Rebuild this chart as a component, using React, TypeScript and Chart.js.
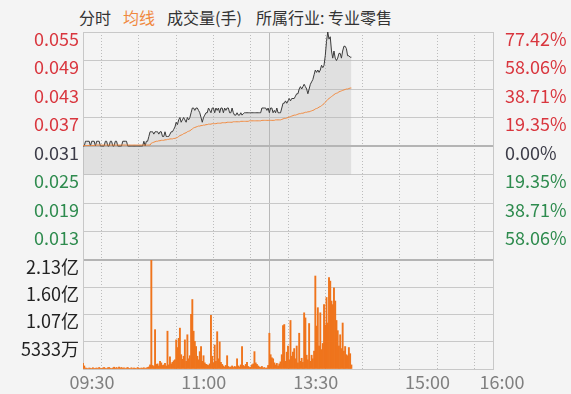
import React, { useEffect, useRef } from 'react';
import { Chart, registerables } from 'chart.js';

Chart.register(...registerables);

const FONT = '"Noto Sans CJK SC", "Noto Sans", sans-serif';

// previous close (reference price)
const prevClose = 0.031;

// price axis ticks (left) – bottom tick unlabeled
const priceTicks = [0.007, 0.013, 0.019, 0.025, 0.031, 0.037, 0.043, 0.049, 0.055];
// volume axis ticks in 万 (10k)
const volTicks = [0, 5333.33, 10666.67, 16000, 21333.33];
const volTickLabels = ['', '5333万', '1.07亿', '1.60亿', '2.13亿'];
// time axis: minutes since 09:30 (lunch break collapsed, 12:00 == 13:00)
const gridMinutes = [0, 30, 60, 90, 120, 150, 180, 210, 240, 270, 300, 330];
const xTickMinutes = [0, 90, 180, 270, 330];
const xTickLabels = ['09:30', '11:00', '13:30', '15:00', '16:00'];
const sessionBreak = [150];

// minute prices (index = minute since 09:30)
const price = [
  0.031, 0.031, 0.032, 0.032, 0.032, 0.032, 0.031, 0.032, 0.032, 0.032,
  0.031, 0.032, 0.032, 0.032, 0.031, 0.031, 0.031, 0.031, 0.032, 0.032,
  0.031, 0.031, 0.032, 0.032, 0.031, 0.031, 0.032, 0.032, 0.031, 0.031,
  0.031, 0.031, 0.032, 0.032, 0.032, 0.032, 0.031, 0.031, 0.031, 0.031,
  0.031, 0.031, 0.031, 0.031, 0.031, 0.031, 0.031, 0.031, 0.031, 0.032,
  0.031, 0.032, 0.032, 0.033, 0.034,
  0.034, 0.034, 0.0335, 0.034, 0.034, 0.034, 0.0335, 0.034, 0.034, 0.033,
  0.033, 0.034, 0.033, 0.033, 0.033, 0.0335, 0.034, 0.034,
  0.0345, 0.035, 0.036, 0.0355, 0.0365, 0.037, 0.036, 0.0365, 0.037, 0.0365,
  0.036, 0.037, 0.0365, 0.037, 0.038, 0.039, 0.039, 0.0385, 0.039, 0.039,
  0.0385, 0.038, 0.037, 0.036, 0.037, 0.0375, 0.038, 0.038,
  0.039, 0.0385, 0.038, 0.039, 0.039, 0.038, 0.039, 0.0385, 0.039, 0.038,
  0.039, 0.039, 0.038, 0.039, 0.0385, 0.039, 0.039, 0.038, 0.038, 0.039,
  0.038, 0.0375, 0.0375, 0.038, 0.0375, 0.0375, 0.038, 0.0375, 0.0378,
  0.038, 0.038, 0.038, 0.038, 0.038, 0.038, 0.038, 0.038, 0.038, 0.038,
  0.038, 0.038, 0.038, 0.038,
  0.039, 0.039, 0.039, 0.039, 0.0385, 0.039, 0.038, 0.039, 0.039, 0.038,
  0.0385, 0.038, 0.039, 0.038, 0.038, 0.038, 0.039,
  0.040, 0.040, 0.0405, 0.040, 0.0405, 0.041, 0.0405, 0.041, 0.041, 0.041,
  0.0415, 0.042, 0.042, 0.043, 0.0435, 0.043, 0.0435, 0.044, 0.0435, 0.043,
  0.042, 0.043, 0.044, 0.0445, 0.045, 0.046, 0.047, 0.0465, 0.047, 0.0465,
  0.047, 0.048, 0.0475, 0.048, 0.050, 0.053, 0.055, 0.0535, 0.054, 0.051,
  0.0495, 0.051, 0.0495, 0.049, 0.0495, 0.0505, 0.0505, 0.0495, 0.051, 0.052,
  0.052, 0.0515, 0.050, 0.050, 0.0497, 0.0497,
];

// minute average price
const avgPrice = [
  0.0311, 0.0311, 0.0311, 0.0311, 0.0311, 0.0311, 0.0311, 0.0311, 0.0311, 0.0311,
  0.0312, 0.0312, 0.0312, 0.0312, 0.0312, 0.0312, 0.0312, 0.0312, 0.0312, 0.0312,
  0.0312, 0.0312, 0.0312, 0.0312, 0.0312, 0.0312, 0.0312, 0.0312, 0.0312, 0.0312,
  0.0312, 0.0312, 0.0312, 0.0312, 0.0312, 0.0312, 0.0312, 0.0312, 0.0312, 0.0312,
  0.0312, 0.0312, 0.0312, 0.0312, 0.0312, 0.0312, 0.0312, 0.0312, 0.0312, 0.0312,
  0.0312, 0.0312, 0.0312, 0.0312, 0.0312,
  0.0316, 0.0317, 0.0318, 0.0319, 0.0320, 0.0320, 0.0321, 0.0321, 0.0322, 0.0322,
  0.0322, 0.0323, 0.0323, 0.0324, 0.0324, 0.0325, 0.0325, 0.0325, 0.0326, 0.0326,
  0.0327, 0.0328, 0.0330, 0.0332, 0.0333, 0.0334, 0.0336, 0.0337, 0.0338, 0.0340,
  0.0341, 0.0342, 0.0344, 0.0346, 0.0348, 0.0349, 0.0350, 0.0351, 0.0352, 0.0352,
  0.0353, 0.0353, 0.0354, 0.0354, 0.0355,
  0.0355, 0.0356, 0.0356, 0.0356, 0.0357, 0.0357, 0.0357, 0.0357, 0.0358, 0.0358,
  0.0358, 0.0358, 0.0359, 0.0359, 0.0359, 0.0359, 0.0360, 0.0360, 0.0360, 0.0360,
  0.0360, 0.0361, 0.0361, 0.0361, 0.0361, 0.0361, 0.0361, 0.0362, 0.0362, 0.0362,
  0.0362, 0.0362, 0.0362, 0.0362, 0.0363, 0.0363, 0.0363, 0.0363, 0.0363, 0.0363,
  0.0363, 0.0363, 0.0363, 0.0363, 0.0364, 0.0364, 0.0364, 0.0364, 0.0364, 0.0364,
  0.0364, 0.0364, 0.0364, 0.0364, 0.0364, 0.0365, 0.0365, 0.0365, 0.0365, 0.0365,
  0.0366, 0.0367, 0.0368, 0.0368, 0.0369, 0.0370, 0.0371, 0.0372, 0.0373, 0.0374,
  0.0375, 0.0375, 0.0376, 0.0377, 0.0378, 0.0378, 0.0379, 0.0379, 0.0380, 0.0381,
  0.0381, 0.0382, 0.0382, 0.0383, 0.0384, 0.0385, 0.0386, 0.0388, 0.0389, 0.0390,
  0.0392, 0.0393, 0.0395, 0.0397, 0.0399, 0.0402, 0.0405, 0.0408, 0.0410, 0.0412,
  0.0414, 0.0416, 0.0418, 0.0420, 0.0421, 0.0422, 0.0424, 0.0425, 0.0426, 0.0427,
  0.0428, 0.0429, 0.0430, 0.0430, 0.0431, 0.0432, 0.0432,
];

// minute volume in 万
const volume = [
  1100, 600, 200, 150, 100, 200, 150, 100, 250, 100,
  150, 200, 100, 300, 150, 100, 200, 300, 150, 100,
  250, 300, 150, 100, 200, 350, 150, 300, 100, 400,
  200, 300, 150, 250, 100, 200, 300, 150, 100, 250,
  100, 200, 150, 100, 300, 150, 100, 200, 150, 250,
  100, 200, 300, 400, 800,
  21300, 700, 500, 7700, 900, 1000, 600, 1500, 1200, 700,
  800, 1100, 600, 7400, 800, 2400, 1000, 1300, 1600, 1800,
  5700, 4200, 6000, 8000, 2800, 1900, 2500, 5700, 1500, 6700,
  2000, 2600, 10700, 13600, 7400, 5400, 4400, 2500, 1800, 3400,
  4400, 1500, 2600, 1200, 900,
  800, 700, 1000, 10500, 2500, 1200, 4700, 1500, 7300, 2000,
  5300, 1300, 900, 600, 400, 700, 2600, 500, 300, 400,
  600, 300, 500, 400, 2000, 600, 400, 800, 4400, 700,
  500, 900, 1300, 500, 300, 400, 800, 1000, 3400, 1200,
  900, 600, 400, 300, 500, 200, 300, 150, 200, 700,
  7000, 2800, 2200, 2000, 1200, 800, 1100, 600, 1000, 1400,
  2800, 8500, 8700, 1500, 3300, 4500, 1800, 9500, 2500, 3300,
  4000, 2000, 4500, 1200, 7000, 1500, 2100, 1300, 11000, 10000,
  2700, 1800, 8900, 1500, 2700, 2000, 3500, 18200, 8400, 12000,
  4500, 11000, 3800, 5000, 12600, 8600, 14000, 9000, 17900, 17200,
  13300, 12600, 15900, 13300, 9500, 7500, 4500, 6700, 4000, 9000,
  3500, 4400, 2800, 2600, 4200, 3000, 800,
];

const RED = '#d9363e';
const GREEN = '#2e8b4e';
const NEUTRAL = '#3c3c48';
const GRID = '#c8c8c8';
const AXIS_FONT = { family: FONT, size: 18 };

function priceColor(v: number) {
  if (Math.abs(v - prevClose) < 1e-9) return NEUTRAL;
  return v > prevClose ? RED : GREEN;
}

export default function App() {
  const ref = useRef<HTMLCanvasElement | null>(null);

  useEffect(() => {
    if (!ref.current) return;
    const pMin = priceTicks[0];
    const pMax = priceTicks[priceTicks.length - 1];
    const pctTicks = priceTicks.map((p) => (p - prevClose) / prevClose);
    const chart = new Chart(ref.current, {
      type: 'line',
      data: {
        datasets: [
          {
            type: 'line',
            label: '分时',
            data: price.map((v, i) => ({ x: i, y: v })),
            borderColor: '#3a3a3a',
            borderWidth: 1,
            pointRadius: 0,
            tension: 0,
            fill: { value: 0.025 },
            backgroundColor: 'rgba(185,185,185,0.32)',
            xAxisID: 'x',
            yAxisID: 'yPrice',
            order: 1,
          } as any,
          {
            type: 'line',
            label: '均线',
            data: avgPrice.map((v, i) => ({ x: i, y: v })),
            borderColor: '#f08a40',
            borderWidth: 1,
            pointRadius: 0,
            tension: 0,
            fill: false,
            xAxisID: 'x',
            yAxisID: 'yPrice',
            order: 0,
          } as any,
          {
            type: 'bar',
            label: '成交量',
            data: volume.map((v, i) => ({ x: i, y: v })),
            backgroundColor: '#ef741c',
            borderWidth: 0,
            barPercentage: 1,
            categoryPercentage: 1,
            xAxisID: 'x',
            yAxisID: 'yVol',
            order: 2,
          } as any,
        ],
      },
      options: {
        responsive: false,
        animation: false,
        events: [],
        layout: { padding: { top: 32, left: 0, right: 0, bottom: 0 } },
        plugins: { legend: { display: false }, tooltip: { enabled: false } },
        scales: {
          x: {
            type: 'linear',
            position: 'bottom',
            min: 0,
            max: 330,
            offset: false,
            afterBuildTicks: (s: any) => {
              s.ticks = gridMinutes.map((v) => ({ value: v }));
            },
            afterFit: (s: any) => {
              s.height = 25;
            },
            ticks: {
              autoSkip: false,
              maxRotation: 0,
              labelOffset: 9,
              padding: 2,
              color: '#808080',
              font: AXIS_FONT,
              callback: (v: any) => {
                const i = xTickMinutes.indexOf(Number(v));
                return i >= 0 ? xTickLabels[i] : '';
              },
            },
            grid: { color: '#bcbcbc', lineWidth: 1, drawTicks: false },
            border: { display: false, dash: [1, 2] },
          },
          x2: {
            type: 'linear',
            position: 'bottom',
            min: 0,
            max: 330,
            offset: false,
            afterBuildTicks: (s: any) => {
              s.ticks = sessionBreak.map((v) => ({ value: v }));
            },
            afterFit: (s: any) => {
              s.height = 0;
            },
            ticks: { display: false },
            grid: { color: '#b8b8b8', lineWidth: 1, drawTicks: false },
            border: { display: false },
          },
          yVol: {
            type: 'linear',
            position: 'left',
            stack: 'L',
            stackWeight: 109,
            min: 0,
            max: volTicks[volTicks.length - 1],
            afterBuildTicks: (s: any) => {
              s.ticks = volTicks.map((v) => ({ value: v }));
            },
            afterFit: (s: any) => {
              s.width = 83;
            },
            ticks: {
              autoSkip: false,
              labelOffset: 7,
              padding: 4,
              color: '#222222',
              font: AXIS_FONT,
              callback: (v: any, i: number) => volTickLabels[i],
            },
            grid: { color: GRID, lineWidth: 1, drawTicks: false },
            border: { display: true, color: GRID },
          },
          yPrice: {
            type: 'linear',
            position: 'left',
            stack: 'L',
            stackWeight: 228,
            min: pMin,
            max: pMax,
            afterBuildTicks: (s: any) => {
              s.ticks = priceTicks.map((v) => ({ value: v }));
            },
            afterFit: (s: any) => {
              s.width = 83;
            },
            ticks: {
              autoSkip: false,
              labelOffset: 7,
              padding: 4,
              font: AXIS_FONT,
              color: (ctx: any) => priceColor(ctx.tick.value),
              callback: (v: any) => (Number(v) === pMin ? '' : Number(v).toFixed(3)),
            },
            grid: {
              color: (ctx: any) =>
                ctx.tick && (ctx.tick.value === prevClose || ctx.tick.value === pMin) ? '#b4b4b4' : GRID,
              lineWidth: (ctx: any) =>
                ctx.tick && (ctx.tick.value === prevClose || ctx.tick.value === pMin) ? 2 : 1,
              drawTicks: false,
            },
            border: { display: true, color: GRID },
          },
          yPct: {
            type: 'linear',
            position: 'right',
            stack: 'R',
            stackWeight: 228,
            min: pctTicks[0],
            max: pctTicks[pctTicks.length - 1],
            afterBuildTicks: (s: any) => {
              s.ticks = pctTicks.map((v) => ({ value: v }));
            },
            afterFit: (s: any) => {
              s.width = 78;
            },
            ticks: {
              autoSkip: false,
              labelOffset: 7,
              padding: 4,
              font: AXIS_FONT,
              color: (ctx: any) => priceColor(prevClose * (1 + ctx.tick.value)),
              callback: (v: any, i: number) =>
                i === 0 ? '' : Math.abs(Number(v) * 100).toFixed(2) + '%',
            },
            grid: { display: false },
            border: { display: true, color: GRID },
          },
          yPctPad: {
            type: 'linear',
            position: 'right',
            stack: 'R',
            stackWeight: 109,
            min: 0,
            max: 1,
            afterFit: (s: any) => {
              s.width = 78;
            },
            ticks: { display: false },
            grid: { display: false },
            border: { display: true, color: GRID },
          },
        },
      } as any,
    });
    return () => chart.destroy();
  }, []);

  const legendStyle: React.CSSProperties = {
    position: 'absolute',
    top: 6,
    fontFamily: FONT,
    fontSize: 16,
    lineHeight: '22px',
    whiteSpace: 'nowrap',
    color: '#333333',
  };

  return (
    <div
      style={{
        position: 'fixed',
        left: 0,
        top: 0,
        width: 571,
        height: 394,
        background: '#f4f4f4',
        overflow: 'hidden',
      }}
    >
      <span style={{ ...legendStyle, left: 79 }}>分时</span>
      <span style={{ ...legendStyle, left: 123, color: '#f0883e' }}>均线</span>
      <span style={{ ...legendStyle, left: 167 }}>成交量(手)</span>
      <span style={{ ...legendStyle, left: 256 }}>所属行业: 专业零售</span>
      <canvas
        ref={ref}
        width={571}
        height={394}
        style={{ position: 'absolute', left: 0, top: 0, width: 571, height: 394 }}
      />
    </div>
  );
}
